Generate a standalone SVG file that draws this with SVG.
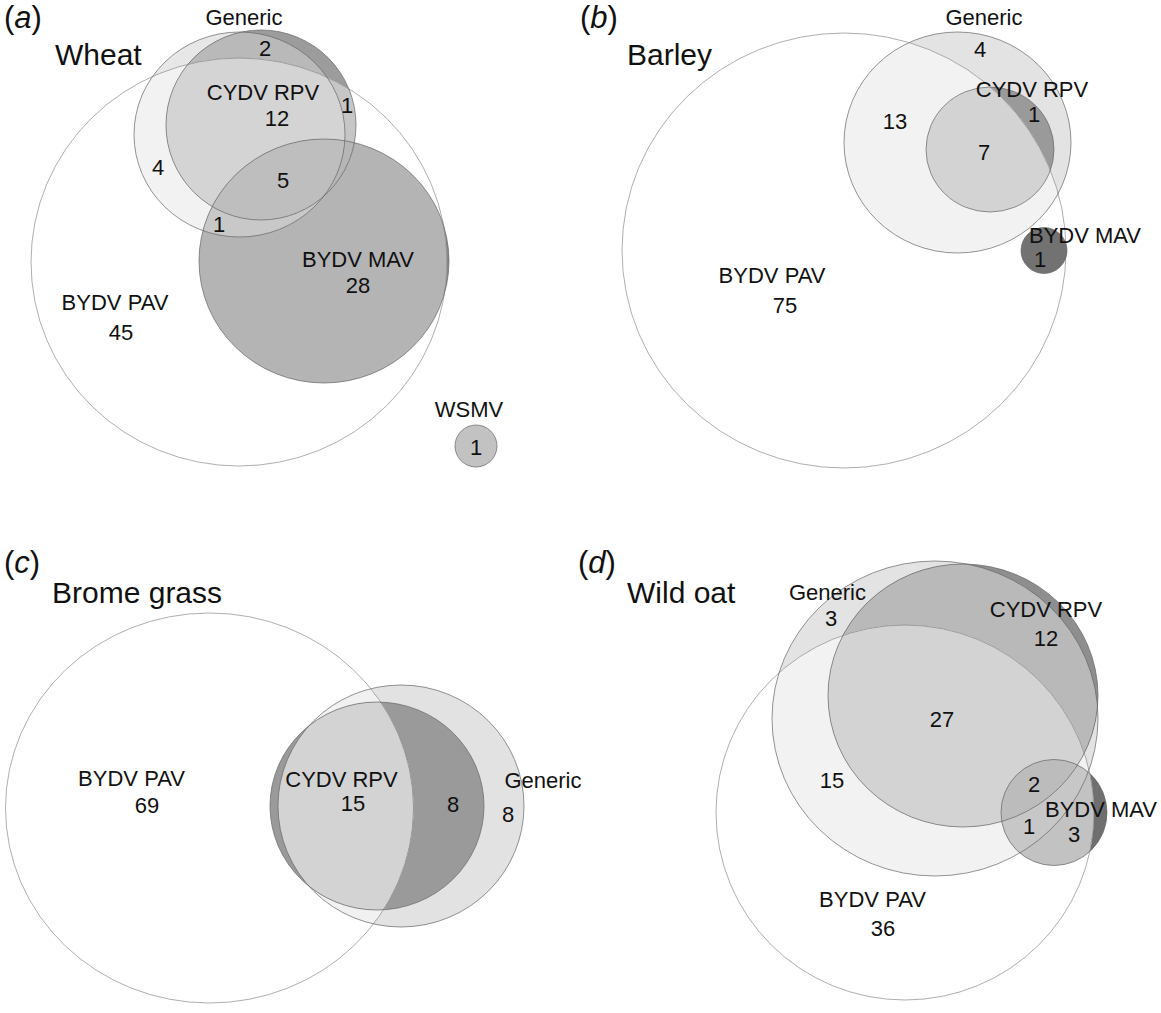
<svg xmlns="http://www.w3.org/2000/svg" width="1161" height="1013" viewBox="0 0 1161 1013">
<style>
text{font-family:"Liberation Sans",Arial,sans-serif;fill:#111}
.lbl{font-size:22px;text-anchor:middle}
.ttl{font-size:30px}
.pl{font-size:31px}
.ol{fill:none;stroke:#666;stroke-width:0.7}
.olp{fill:none;stroke:#777;stroke-width:0.6}
</style>
<defs>
<clipPath id="aP"><ellipse cx="239" cy="262" rx="208" ry="204"/></clipPath>
<clipPath id="aG"><ellipse cx="239.5" cy="134.5" rx="105.5" ry="102.5"/></clipPath>
<clipPath id="aC"><ellipse cx="261" cy="125" rx="95" ry="95"/></clipPath>
<clipPath id="bP"><ellipse cx="844" cy="250.5" rx="222" ry="217.5"/></clipPath>
<clipPath id="bG"><ellipse cx="957.5" cy="142.5" rx="113.5" ry="110.5"/></clipPath>
<clipPath id="cP"><ellipse cx="209.5" cy="808" rx="204" ry="195"/></clipPath>
<clipPath id="cG"><ellipse cx="401" cy="806" rx="123" ry="121"/></clipPath>
<clipPath id="dP"><ellipse cx="905" cy="812.5" rx="189" ry="187.5"/></clipPath>
<clipPath id="dG"><ellipse cx="935" cy="718.5" rx="163" ry="157.5"/></clipPath>
<clipPath id="dC"><ellipse cx="963" cy="695.5" rx="135" ry="131.5"/></clipPath>
</defs>
<rect width="1161" height="1013" fill="#fff"/>

<g id="panel-a">
 <g id="a-fills">
  <ellipse cx="239.5" cy="134.5" rx="105.5" ry="102.5" fill="#e7e7e7"/>
  <ellipse cx="261" cy="125" rx="95" ry="95" fill="#9c9c9c"/>
  <g clip-path="url(#aG)"><ellipse cx="261" cy="125" rx="95" ry="95" fill="#b9b9b9"/></g>
  <ellipse cx="324" cy="261" rx="125" ry="122" fill="#8a8a8a"/>
  <ellipse cx="239" cy="262" rx="208" ry="204" fill="#fff"/>
  <g clip-path="url(#aP)">
   <ellipse cx="239.5" cy="134.5" rx="105.5" ry="102.5" fill="#f2f2f2"/>
   <ellipse cx="261" cy="125" rx="95" ry="95" fill="#c6c6c6"/>
   <g clip-path="url(#aG)"><ellipse cx="261" cy="125" rx="95" ry="95" fill="#d4d4d4"/></g>
   <ellipse cx="324" cy="261" rx="125" ry="122" fill="#b4b4b5"/>
   <g clip-path="url(#aG)"><ellipse cx="324" cy="261" rx="125" ry="122" fill="#c8c8c8"/></g>
   <g clip-path="url(#aC)"><ellipse cx="324" cy="261" rx="125" ry="122" fill="#b6b6b6"/>
    <g clip-path="url(#aG)"><ellipse cx="324" cy="261" rx="125" ry="122" fill="#bebebe"/></g></g>
  </g>
 </g>
 <g id="a-outlines">
  <ellipse id="a-pav" class="olp" cx="239" cy="262" rx="208" ry="204"/>
  <ellipse id="a-generic" class="ol" cx="239.5" cy="134.5" rx="105.5" ry="102.5"/>
  <ellipse id="a-rpv" class="ol" cx="261" cy="125" rx="95" ry="95"/>
  <ellipse id="a-mav" class="ol" cx="324" cy="261" rx="125" ry="122"/>
 </g>
 <g id="a-wsmv"><circle cx="476" cy="446" r="21" fill="#c2c2c2" stroke="#666" stroke-width="0.7"/></g>
 <g id="a-text">
  <text class="pl" x="4" y="28">(<tspan font-style="italic">a</tspan>)</text>
  <text class="ttl" x="55" y="65">Wheat</text>
  <text class="lbl" x="244" y="25">Generic</text>
  <text class="lbl" x="265" y="56">2</text>
  <text class="lbl" x="263" y="100">CYDV RPV</text>
  <text class="lbl" x="277" y="126">12</text>
  <text class="lbl" x="347" y="113">1</text>
  <text class="lbl" x="158" y="175">4</text>
  <text class="lbl" x="283" y="188">5</text>
  <text class="lbl" x="219" y="232">1</text>
  <text class="lbl" x="358" y="267">BYDV MAV</text>
  <text class="lbl" x="358" y="293">28</text>
  <text class="lbl" x="115" y="310">BYDV PAV</text>
  <text class="lbl" x="121" y="340">45</text>
  <text class="lbl" x="469" y="417">WSMV</text>
  <text class="lbl" x="476" y="455">1</text>
 </g>
</g>

<g id="panel-b">
 <g id="b-fills">
  <ellipse cx="957.5" cy="142.5" rx="113.5" ry="110.5" fill="#e3e3e3"/>
  <ellipse cx="990" cy="149.5" rx="64" ry="62.5" fill="#9a9a9a"/>
  <ellipse cx="844" cy="250.5" rx="222" ry="217.5" fill="#fff"/>
  <g clip-path="url(#bP)">
   <ellipse cx="957.5" cy="142.5" rx="113.5" ry="110.5" fill="#f2f2f2"/>
   <ellipse cx="990" cy="149.5" rx="64" ry="62.5" fill="#d3d3d3"/>
  </g>
  <circle cx="1044" cy="250.5" r="23" fill="#727272"/>
 </g>
 <g id="b-outlines">
  <ellipse id="b-pav" class="olp" cx="844" cy="250.5" rx="222" ry="217.5"/>
  <ellipse id="b-generic" class="ol" cx="957.5" cy="142.5" rx="113.5" ry="110.5"/>
  <ellipse id="b-rpv" class="ol" cx="990" cy="149.5" rx="64" ry="62.5"/>
  <circle id="b-mav" class="ol" cx="1044" cy="250.5" r="23"/>
 </g>
 <g id="b-text">
  <text class="pl" x="580" y="28">(<tspan font-style="italic">b</tspan>)</text>
  <text class="ttl" x="627" y="65">Barley</text>
  <text class="lbl" x="984" y="25">Generic</text>
  <text class="lbl" x="980" y="57">4</text>
  <text class="lbl" x="1032" y="97">CYDV RPV</text>
  <text class="lbl" x="1034" y="122">1</text>
  <text class="lbl" x="895" y="129">13</text>
  <text class="lbl" x="984" y="160">7</text>
  <text class="lbl" x="1085" y="243">BYDV MAV</text>
  <text class="lbl" x="1040" y="267">1</text>
  <text class="lbl" x="772" y="283">BYDV PAV</text>
  <text class="lbl" x="785" y="313">75</text>
 </g>
</g>

<g id="panel-c">
 <g id="c-fills">
  <ellipse cx="401" cy="806" rx="123" ry="121" fill="#e2e2e2"/>
  <ellipse cx="377" cy="806" rx="107" ry="104" fill="#9a9a9a"/>
  <ellipse cx="209.5" cy="808" rx="204" ry="195" fill="#fff"/>
  <g clip-path="url(#cP)">
   <ellipse cx="401" cy="806" rx="123" ry="121" fill="#f1f1f1"/>
   <ellipse cx="377" cy="806" rx="107" ry="104" fill="#9a9a9a"/>
   <g clip-path="url(#cG)"><ellipse cx="377" cy="806" rx="107" ry="104" fill="#d3d3d3"/></g>
  </g>
 </g>
 <g id="c-outlines">
  <ellipse id="c-pav" class="olp" cx="209.5" cy="808" rx="204" ry="195"/>
  <ellipse id="c-generic" class="ol" cx="401" cy="806" rx="123" ry="121"/>
  <ellipse id="c-rpv" class="ol" cx="377" cy="806" rx="107" ry="104"/>
 </g>
 <g id="c-text">
  <text class="pl" x="4" y="573">(<tspan font-style="italic">c</tspan>)</text>
  <text class="ttl" x="52" y="603">Brome grass</text>
  <text class="lbl" x="131.5" y="786">BYDV PAV</text>
  <text class="lbl" x="147" y="813">69</text>
  <text class="lbl" x="341.5" y="787">CYDV RPV</text>
  <text class="lbl" x="353" y="811">15</text>
  <text class="lbl" x="453" y="812">8</text>
  <text class="lbl" x="543" y="788">Generic</text>
  <text class="lbl" x="508" y="822">8</text>
 </g>
</g>

<g id="panel-d">
 <g id="d-fills">
  <ellipse cx="935" cy="718.5" rx="163" ry="157.5" fill="#e3e3e3"/>
  <ellipse cx="963" cy="695.5" rx="135" ry="131.5" fill="#8e8e8e"/>
  <g clip-path="url(#dG)"><ellipse cx="963" cy="695.5" rx="135" ry="131.5" fill="#b9b9b9"/></g>
  <circle cx="1054" cy="812.5" r="53" fill="#6f6f6f"/>
  <ellipse cx="905" cy="812.5" rx="189" ry="187.5" fill="#fff"/>
  <g clip-path="url(#dP)">
   <ellipse cx="935" cy="718.5" rx="163" ry="157.5" fill="#f2f2f2"/>
   <ellipse cx="963" cy="695.5" rx="135" ry="131.5" fill="#c6c6c6"/>
   <g clip-path="url(#dG)"><ellipse cx="963" cy="695.5" rx="135" ry="131.5" fill="#d3d3d3"/></g>
   <circle cx="1054" cy="812.5" r="53" fill="#c2c2c2"/>
   <g clip-path="url(#dG)"><circle cx="1054" cy="812.5" r="53" fill="#c7c7c7"/>
    <g clip-path="url(#dC)"><circle cx="1054" cy="812.5" r="53" fill="#bcbcbc"/></g></g>
  </g>
 </g>
 <g id="d-outlines">
  <ellipse id="d-pav" class="olp" cx="905" cy="812.5" rx="189" ry="187.5"/>
  <ellipse id="d-generic" class="ol" cx="935" cy="718.5" rx="163" ry="157.5"/>
  <ellipse id="d-rpv" class="ol" cx="963" cy="695.5" rx="135" ry="131.5"/>
  <circle id="d-mav" class="ol" cx="1054" cy="812.5" r="53"/>
 </g>
 <g id="d-text">
  <text class="pl" x="578" y="573">(<tspan font-style="italic">d</tspan>)</text>
  <text class="ttl" x="627" y="603">Wild oat</text>
  <text class="lbl" x="827.5" y="600">Generic</text>
  <text class="lbl" x="831" y="626">3</text>
  <text class="lbl" x="1046" y="617">CYDV RPV</text>
  <text class="lbl" x="1046" y="646">12</text>
  <text class="lbl" x="942" y="727">27</text>
  <text class="lbl" x="832" y="788">15</text>
  <text class="lbl" x="1034" y="792">2</text>
  <text class="lbl" x="1029" y="834">1</text>
  <text class="lbl" x="1101" y="817">BYDV MAV</text>
  <text class="lbl" x="1074" y="842">3</text>
  <text class="lbl" x="872.5" y="907">BYDV PAV</text>
  <text class="lbl" x="883" y="936">36</text>
 </g>
</g>
</svg>
